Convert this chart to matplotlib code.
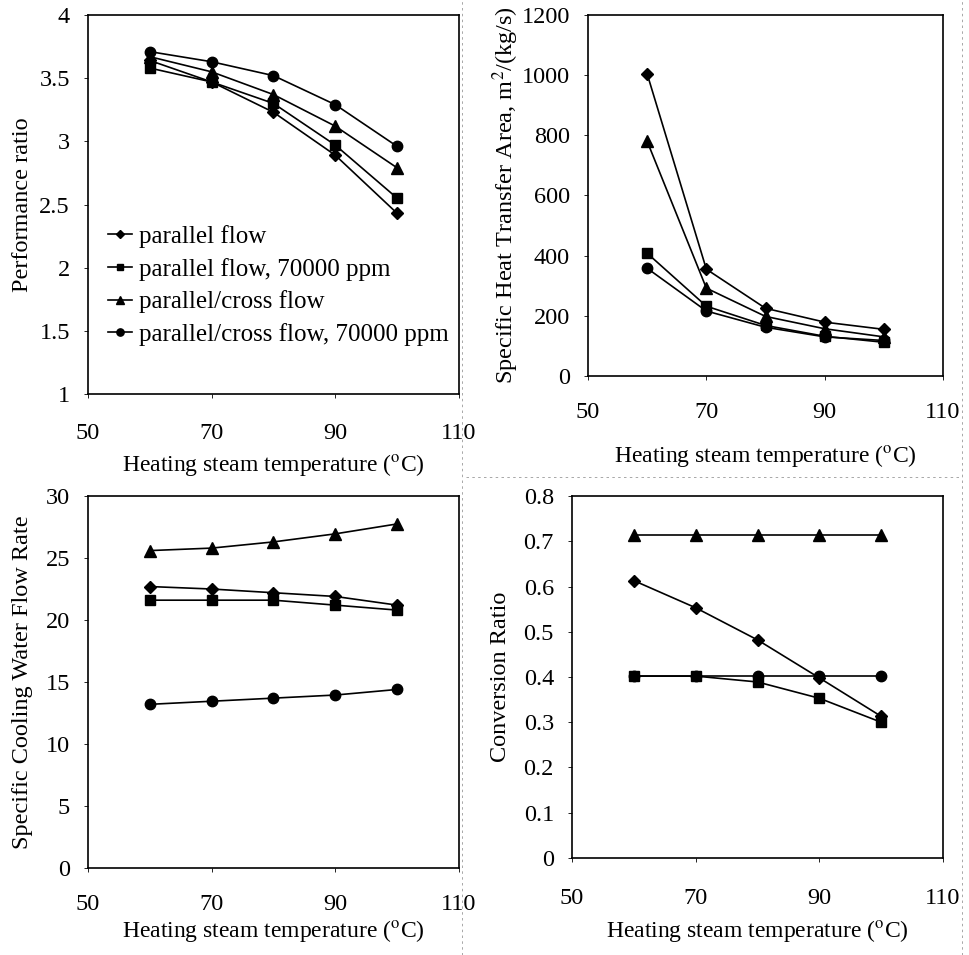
import numpy as np
import matplotlib
matplotlib.use("Agg")
import matplotlib.pyplot as plt
from matplotlib.lines import Line2D

plt.rcParams['font.family'] = ['Liberation Serif', 'DejaVu Serif']
plt.rcParams['mathtext.fontset'] = 'stix'

# heating steam temperature, C
temp = [60, 70, 80, 90, 100]
labels = ['parallel flow', 'parallel flow, 70000 ppm',
          'parallel/cross flow', 'parallel/cross flow, 70000 ppm']

# performance ratio
pr_par = [3.64, 3.47, 3.23, 2.89, 2.43]
pr_par70 = [3.58, 3.47, 3.30, 2.97, 2.55]
pr_cross = [3.67, 3.55, 3.37, 3.12, 2.79]
pr_cross70 = [3.71, 3.63, 3.52, 3.29, 2.96]

# specific heat transfer area, m2/(kg/s)
sa_par = [1004, 355, 225, 179, 155]
sa_par70 = [408, 232, 168, 132, 112]
sa_cross = [780, 292, 198, 157, 130]
sa_cross70 = [358, 216, 162, 130, 118]

# specific cooling water flow rate
cw_par = [22.7, 22.5, 22.2, 21.9, 21.2]
cw_par70 = [21.6, 21.6, 21.6, 21.2, 20.8]
cw_cross = [25.6, 25.8, 26.3, 26.95, 27.75]
cw_cross70 = [13.2, 13.45, 13.7, 13.95, 14.4]

# conversion ratio
cr_par = [0.613, 0.553, 0.482, 0.398, 0.313]
cr_par70 = [0.402, 0.402, 0.389, 0.353, 0.300]
cr_cross = [0.714, 0.714, 0.714, 0.714, 0.714]
cr_cross70 = [0.402, 0.402, 0.402, 0.402, 0.402]

markers = [('D', 6.5), ('s', 7), ('^', 8.5), ('o', 7.5)]

fig = plt.figure(figsize=(9.7, 9.55), dpi=100)

FS = 17.5
xlab = 'Heating steam temperature ($^{\\mathrm{o}}$C)'


def panel(rect, series, ylim, yticks, ylabel, xpad, xlab_y, ylab_x):
    ax = fig.add_axes(rect)
    for (m, ms), ys, lab in zip(markers, series, labels):
        ax.plot(temp, ys, color='black', lw=1.2, marker=m, ms=ms, label=lab)
    ax.set_xlim(50, 110)
    ax.set_xticks([50, 70, 90, 110])
    ax.set_ylim(*ylim)
    ax.set_yticks(yticks)
    ax.yaxis.set_major_formatter(plt.FuncFormatter(lambda v, p: f'{v:g}'))
    ax.tick_params(axis='y', length=3, width=0.6, pad=10, labelsize=FS)
    ax.tick_params(axis='x', length=3, width=0.6, pad=xpad, labelsize=FS)
    ax.set_xlabel(xlab, fontsize=17)
    ax.set_ylabel(ylabel, fontsize=FS)
    ax.xaxis.set_label_coords(0.5, xlab_y)
    ax.yaxis.set_label_coords(ylab_x, 0.5)
    for s in ax.spines.values():
        s.set_linewidth(1.2)
    return ax


ax1 = panel([0.0907, 0.5874, 0.3825, 0.3969],
            [pr_par, pr_par70, pr_cross, pr_cross70],
            (1, 4), np.arange(1, 4.01, 0.5), 'Performance ratio',
            18, -0.152, -0.148)
ax1.legend(loc='upper left', bbox_to_anchor=(0.054, 0.446), frameon=False,
           fontsize=18, handlelength=0.95, handletextpad=0.3,
           labelspacing=0.39, markerscale=0.7, borderpad=0, borderaxespad=0)

ax2 = panel([0.6062, 0.6063, 0.366, 0.378],
            [sa_par, sa_par70, sa_cross, sa_cross70],
            (0, 1200), np.arange(0, 1201, 200),
            'Specific Heat Transfer Area, m$^{2}$/(kg/s)',
            16, -0.186, -0.19)

ax3 = panel([0.0907, 0.0911, 0.3825, 0.3895],
            [cw_par, cw_par70, cw_cross, cw_cross70],
            (0, 30), np.arange(0, 31, 5), 'Specific Cooling Water Flow Rate',
            15.5, -0.134, -0.148)

ax4 = panel([0.5897, 0.1016, 0.3825, 0.379],
            [cr_par, cr_par70, cr_cross, cr_cross70],
            (0, 0.8), np.arange(0, 0.81, 0.1), 'Conversion Ratio',
            18.5, -0.166, -0.165)

# faint panel borders from the scanned original
for seg in [([0.476, 0.476], [0.0, 1.0]), ([0.992, 0.992], [0.0, 1.0]),
            ([0.48, 0.992], [0.5, 0.5])]:
    fig.add_artist(Line2D(seg[0], seg[1], color='0.6', lw=0.6, ls=(0, (3, 4))))

fig.savefig('out.png', dpi=100)
